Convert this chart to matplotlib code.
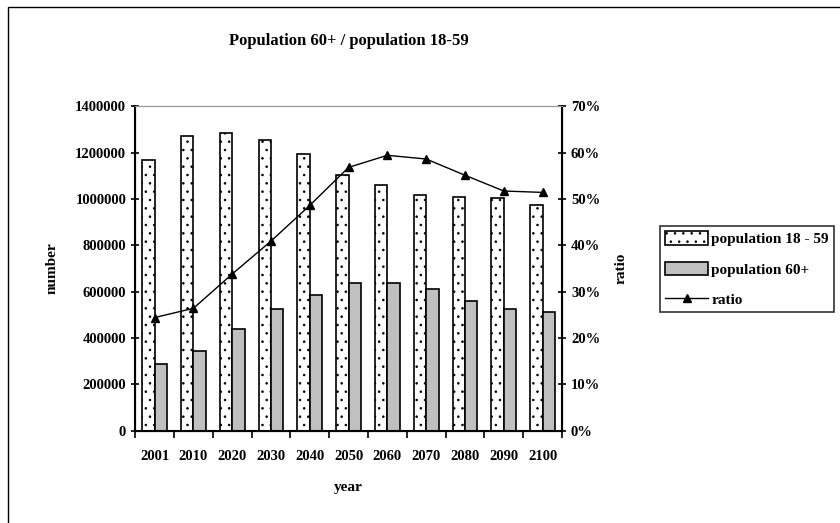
import numpy as np
import matplotlib.pyplot as plt
from matplotlib.patches import Rectangle
from matplotlib.ticker import FuncFormatter

plt.rcParams['font.family'] = ['Liberation Serif', 'DejaVu Serif']
plt.rcParams['font.weight'] = 'bold'
plt.rcParams['hatch.linewidth'] = 0.6

# data
years = ['2001', '2010', '2020', '2030', '2040', '2050', '2060', '2070', '2080', '2090', '2100']
pop_18_59 = [1166000, 1270000, 1283000, 1253000, 1192000, 1105000, 1062000, 1018000, 1010000, 1005000, 975000]
pop_60 = [288000, 345000, 439000, 526000, 586000, 637000, 637000, 611000, 560000, 526000, 510000]
ratio = [0.244, 0.264, 0.338, 0.409, 0.486, 0.568, 0.594, 0.586, 0.551, 0.517, 0.514]

fig = plt.figure(figsize=(8.4, 5.23), dpi=100)
ax = fig.add_axes([0.161, 0.1765, 0.508, 0.6205])

x = np.arange(len(years))
w = 0.32
b1 = ax.bar(x - w / 2, pop_18_59, w, color='white', edgecolor='black', linewidth=1.2,
            hatch='..', label='population 18 - 59')
b2 = ax.bar(x + w / 2, pop_60, w, color='#c0c0c0', edgecolor='black', linewidth=1.2,
            label='population 60+')

ax.set_xlim(-0.5, len(years) - 0.5)
ax.set_ylim(0, 1400000)
ax.set_yticks(np.arange(0, 1400001, 200000))
ax.yaxis.set_major_formatter(FuncFormatter(lambda v, p: f'{v:.0f}'))
ax.set_xticks(x)
ax.set_xticklabels(years)
ax.set_xticks(np.arange(-0.5, len(years), 1), minor=True)
ax.tick_params(axis='x', which='major', length=0, labelsize=10.5, pad=14)
ax.tick_params(axis='x', which='minor', length=5, width=1.2, direction='out')
ax.tick_params(axis='y', length=6, width=1.2, direction='inout', labelsize=10.5)
ax.set_xlabel('year', fontsize=11, fontweight='bold', labelpad=13)
ax.set_ylabel('number', fontsize=11, fontweight='bold', labelpad=12)
for s in ['left', 'bottom']:
    ax.spines[s].set_linewidth(1.5)
ax.spines['top'].set_color('#999999')

ax2 = ax.twinx()
ln, = ax2.plot(x, ratio, color='black', linewidth=1, marker='^', markersize=6, label='ratio')
ax2.set_ylim(0, 0.7)
ax2.set_yticks(np.arange(0, 0.71, 0.1))
ax2.yaxis.set_major_formatter(FuncFormatter(lambda v, p: f'{v * 100:.0f}%'))
ax2.tick_params(axis='y', length=6, width=1.2, direction='inout', labelsize=10.5)
ax2.spines['right'].set_linewidth(1.5)
ax2.spines['top'].set_color('#999999')
ax2.set_ylabel('ratio', fontsize=11, fontweight='bold', rotation=90, labelpad=10)

ax.set_title('Population 60+ / population 18-59', fontsize=12, fontweight='bold', pad=44)

leg = fig.legend([b1, b2, ln], ['population 18 - 59', 'population 60+', 'ratio'],
                 loc='upper left', bbox_to_anchor=(660 / 840, 1 - 226 / 523),
                 fontsize=11, frameon=True, fancybox=False, edgecolor='black',
                 borderpad=0.35, handlelength=2.8, handleheight=1.0,
                 handletextpad=0.2, labelspacing=1.0, borderaxespad=0)
leg.get_frame().set_linewidth(1.2)

# outer chart border (only left and top visible in the crop)
fig.patches.append(Rectangle((8 / 840, -0.2), 1.2, 1.2 - 9 / 523 + 0.003,
                             transform=fig.transFigure, fill=False,
                             edgecolor='black', linewidth=1))

fig.savefig('out.png', dpi=100)
